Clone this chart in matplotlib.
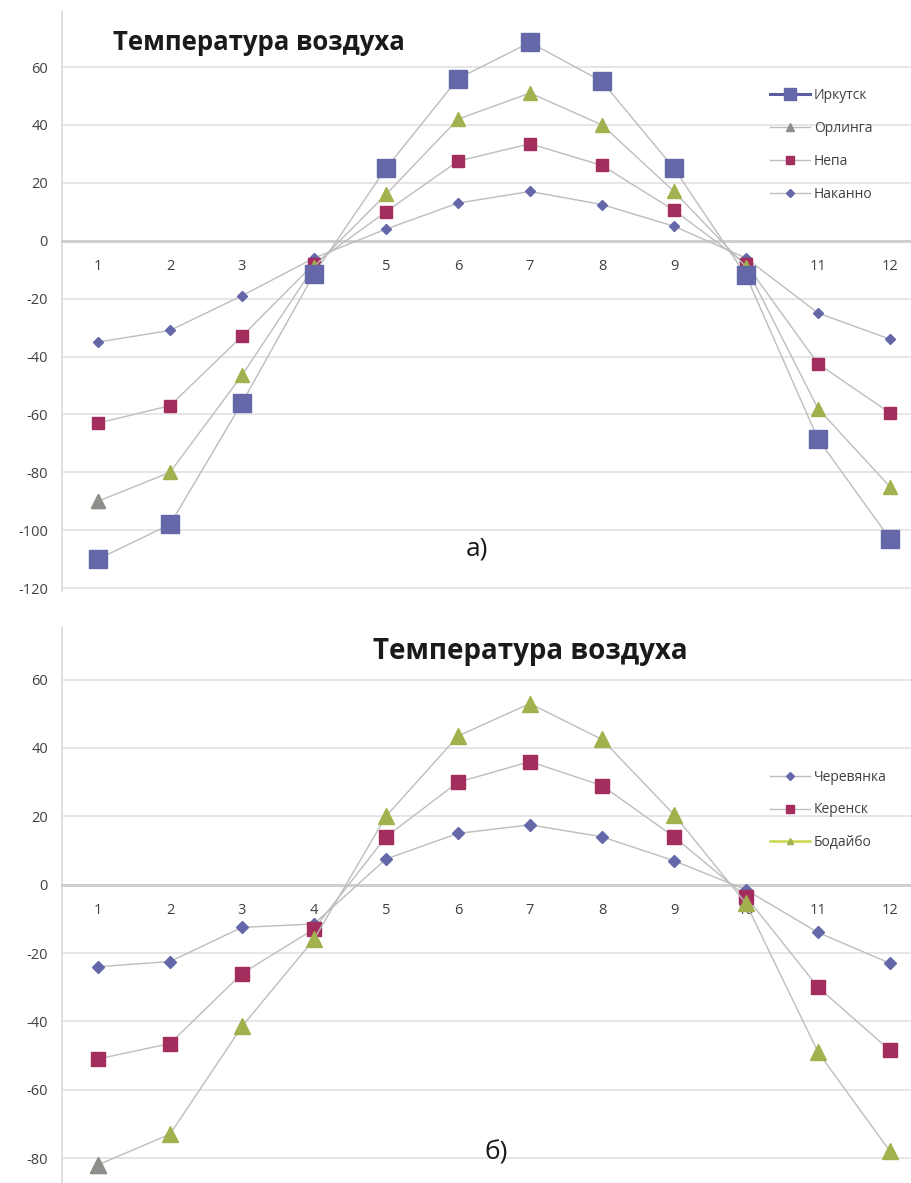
import matplotlib
matplotlib.use("Agg")
import matplotlib.pyplot as plt
from matplotlib.lines import Line2D

plt.rcParams['font.family'] = ['Open Sans', 'DejaVu Sans']

# monthly values
months = list(range(1, 13))

# chart a)
irkutsk = [-110, -98, -56, -11.5, 25, 56, 68.5, 55, 25, -12, -68.5, -103]
orlinga = [-90, -80, -46.5, -9, 16, 42, 51, 40, 17, -9, -58, -85]
nepa = [-63, -57, -33, -8, 10, 27.5, 33.5, 26, 10.5, -8, -42.5, -59.5]
nakanno = [-35, -31, -19, -6, 4, 13, 17, 12.5, 5, -6, -25, -34]

# chart б)
cherevyanka = [-24, -22.5, -12.5, -11.5, 7.5, 15, 17.5, 14, 7, -1.5, -14, -23]
kerensk = [-51, -46.5, -26, -13, 14, 30, 36, 29, 14, -3.5, -30, -48.5]
bodaibo = [-82, -73, -41.5, -16, 20, 43.5, 53, 42.5, 20.5, -5.5, -49, -78]

title = "Температура воздуха"

W, H = 912, 1183
BLUE = "#6467A8"
CRIMSON = "#A32D5C"
GREEN = "#A3B04E"
GREY_MK = "#8E8E8E"
LINE = "#BDBDBD"
TXT = "#404040"


def px_axes(fig, x0, y0, x1, y1):
    return fig.add_axes([x0 / W, 1 - y1 / H, (x1 - x0) / W, (y1 - y0) / H])


def style_axes(ax, ylim, yticks):
    ax.set_xlim(0.5, 0.5 + (W - 62) / 72)
    ax.set_ylim(*ylim)
    ax.set_yticks(yticks)
    ax.set_yticklabels([str(v) for v in yticks])
    ax.set_xticks(months)
    ax.set_xticklabels([str(m) for m in months])
    for s in ("top", "right"):
        ax.spines[s].set_visible(False)
    ax.spines["left"].set_color("#D9D9D9")
    ax.spines["left"].set_linewidth(1.2)
    ax.spines["bottom"].set_position(("data", 0))
    ax.spines["bottom"].set_color("#CFCFCF")
    ax.spines["bottom"].set_linewidth(2.2)
    ax.tick_params(axis="y", length=0, pad=10, labelsize=10.5, labelcolor=TXT)
    ax.tick_params(axis="x", length=0, pad=13, labelsize=10.5, labelcolor=TXT)
    ax.yaxis.grid(True, color="#E2E2E2", lw=1.2)
    ax.set_axisbelow(True)


def series(ax, y, marker, color, ms, first_grey=False):
    ax.plot(months, y, color=LINE, lw=1.0, marker=marker, ms=ms,
            mfc=color, mec=color, zorder=3)
    if first_grey:
        ax.plot(months[0], y[0], ls="none", marker=marker, ms=ms,
                mfc=GREY_MK, mec=GREY_MK, zorder=4)


fig = plt.figure(figsize=(W / 100, H / 100), dpi=100)

# ---- a) ----
ax1 = px_axes(fig, 62, 12, W, 591)
style_axes(ax1, (-121, 79), list(range(-120, 61, 20)))
series(ax1, nakanno, "D", BLUE, 5.4)
series(ax1, nepa, "s", CRIMSON, 9.0)
series(ax1, orlinga, "^", GREEN, 9.6, first_grey=True)
series(ax1, irkutsk, "s", BLUE, 12.6)

h1 = [
    Line2D([], [], color="#5A5EA0", lw=2.2, marker="s", ms=9, mfc=BLUE, mec=BLUE),
    Line2D([], [], color=LINE, lw=1.0, marker="^", ms=6, mfc=GREY_MK, mec=GREY_MK),
    Line2D([], [], color=LINE, lw=1.0, marker="s", ms=6, mfc=CRIMSON, mec=CRIMSON),
    Line2D([], [], color=LINE, lw=1.0, marker="D", ms=4, mfc=BLUE, mec=BLUE),
]
fig.legend(h1, ["Иркутск", "Орлинга", "Непа", "Наканно"],
           loc="upper left", bbox_to_anchor=(770 / W, 1 - 88 / H),
           frameon=False, fontsize=10, handlelength=2.9, handletextpad=0.25,
           labelspacing=1.3, borderpad=0, borderaxespad=0, labelcolor=TXT)

fig.text(259 / W, 1 - 43 / H, title, ha="center", va="center",
         fontsize=18.5, fontweight="bold", color="#1A1A1A")
fig.text(477 / W, 1 - 549 / H, "а)", ha="center", va="center",
         fontsize=19, color="#1A1A1A")

# ---- б) ----
ax2 = px_axes(fig, 62, 628, W, H)
style_axes(ax2, (-87.3, 75.1), list(range(-80, 61, 20)))
series(ax2, cherevyanka, "D", BLUE, 6.2)
series(ax2, kerensk, "s", CRIMSON, 9.8)
series(ax2, bodaibo, "^", GREEN, 11.0, first_grey=True)

h2 = [
    Line2D([], [], color=LINE, lw=1.0, marker="D", ms=4, mfc=BLUE, mec=BLUE),
    Line2D([], [], color=LINE, lw=1.0, marker="s", ms=6, mfc=CRIMSON, mec=CRIMSON),
    Line2D([], [], color="#C9D84A", lw=1.8, marker="^", ms=5, mfc=GREEN, mec=GREEN),
]
fig.legend(h2, ["Черевянка", "Керенск", "Бодайбо"],
           loc="upper left", bbox_to_anchor=(770 / W, 1 - 770 / H),
           frameon=False, fontsize=10, handlelength=2.9, handletextpad=0.25,
           labelspacing=1.25, borderpad=0, borderaxespad=0, labelcolor=TXT)

fig.text(530 / W, 1 - 652 / H, title, ha="center", va="center",
         fontsize=20, fontweight="bold", color="#1A1A1A")
fig.text(496 / W, 1 - 1153 / H, "б)", ha="center", va="center",
         fontsize=19, color="#1A1A1A")

fig.savefig("out.png", dpi=100)
